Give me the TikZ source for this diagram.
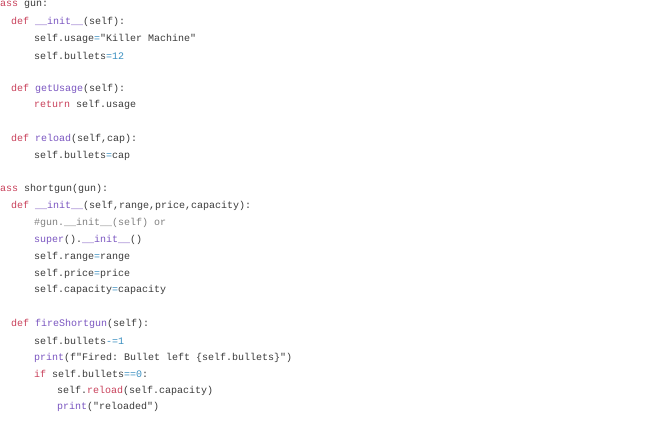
\documentclass[tikz,border=0pt]{standalone}
\usepackage{fontspec}
\setmonofont{Liberation Mono}
\definecolor{kwred}{HTML}{C8405A}
\definecolor{fnpurple}{HTML}{7A55C0}
\definecolor{opblue}{HTML}{3A8FC0}
\definecolor{codegray}{HTML}{3A3A3A}
\definecolor{cmtgray}{HTML}{808080}
\newcommand{\kw}[1]{\textcolor{kwred}{#1}}
\newcommand{\fn}[1]{\textcolor{fnpurple}{#1}}
\newcommand{\op}[1]{\textcolor{opblue}{#1}}
\newcommand{\cm}[1]{\textcolor{cmtgray}{#1}}
\tikzset{code/.style={anchor=west,inner sep=0pt,text=codegray,font=\ttfamily\fontsize{10}{12}\selectfont}}
\begin{document}
\begin{tikzpicture}[x=1pt,y=-1pt]
\useasboundingbox (0,0) rectangle (660,440);
\node[code] (l1) at (0,5) {\kw{ass} gun:};
\node[code] (l2) at (11,22) {\kw{def} \fn{\_\_init\_\_}(self):};
\node[code] (l3) at (34,39) {self.usage\op{=}"Killer Machine"};
\node[code] (l4) at (34,56) {self.bullets\op{=12}};
\node[code] (l5) at (11,89) {\kw{def} \fn{getUsage}(self):};
\node[code] (l6) at (34,105) {\kw{return} self.usage};
\node[code] (l7) at (11,139) {\kw{def} \fn{reload}(self,cap):};
\node[code] (l8) at (34,156) {self.bullets\op{=}cap};
\node[code] (l9) at (0,189) {\kw{ass} shortgun(gun):};
\node[code] (l10) at (11,206) {\kw{def} \fn{\_\_init\_\_}(self,range,price,capacity):};
\node[code] (l11) at (34,223) {\cm{\#gun.\_\_init\_\_(self) or}};
\node[code] (l12) at (34,240) {\fn{super}().\fn{\_\_init\_\_}()};
\node[code] (l13) at (34,257) {self.range\op{=}range};
\node[code] (l14) at (34,274) {self.price\op{=}price};
\node[code] (l15) at (34,290) {self.capacity\op{=}capacity};
\node[code] (l16) at (11,324) {\kw{def} \fn{fireShortgun}(self):};
\node[code] (l17) at (34,341) {self.bullets\op{-=1}};
\node[code] (l18) at (34,358) {\fn{print}(f"Fired: Bullet left \{self.bullets\}")};
\node[code] (l19) at (34,374) {\kw{if} self.bullets\op{==0}:};
\node[code] (l20) at (57,391) {self.\kw{reload}(self.capacity)};
\node[code] (l21) at (57,407) {\fn{print}("reloaded")};
\end{tikzpicture}
\end{document}
